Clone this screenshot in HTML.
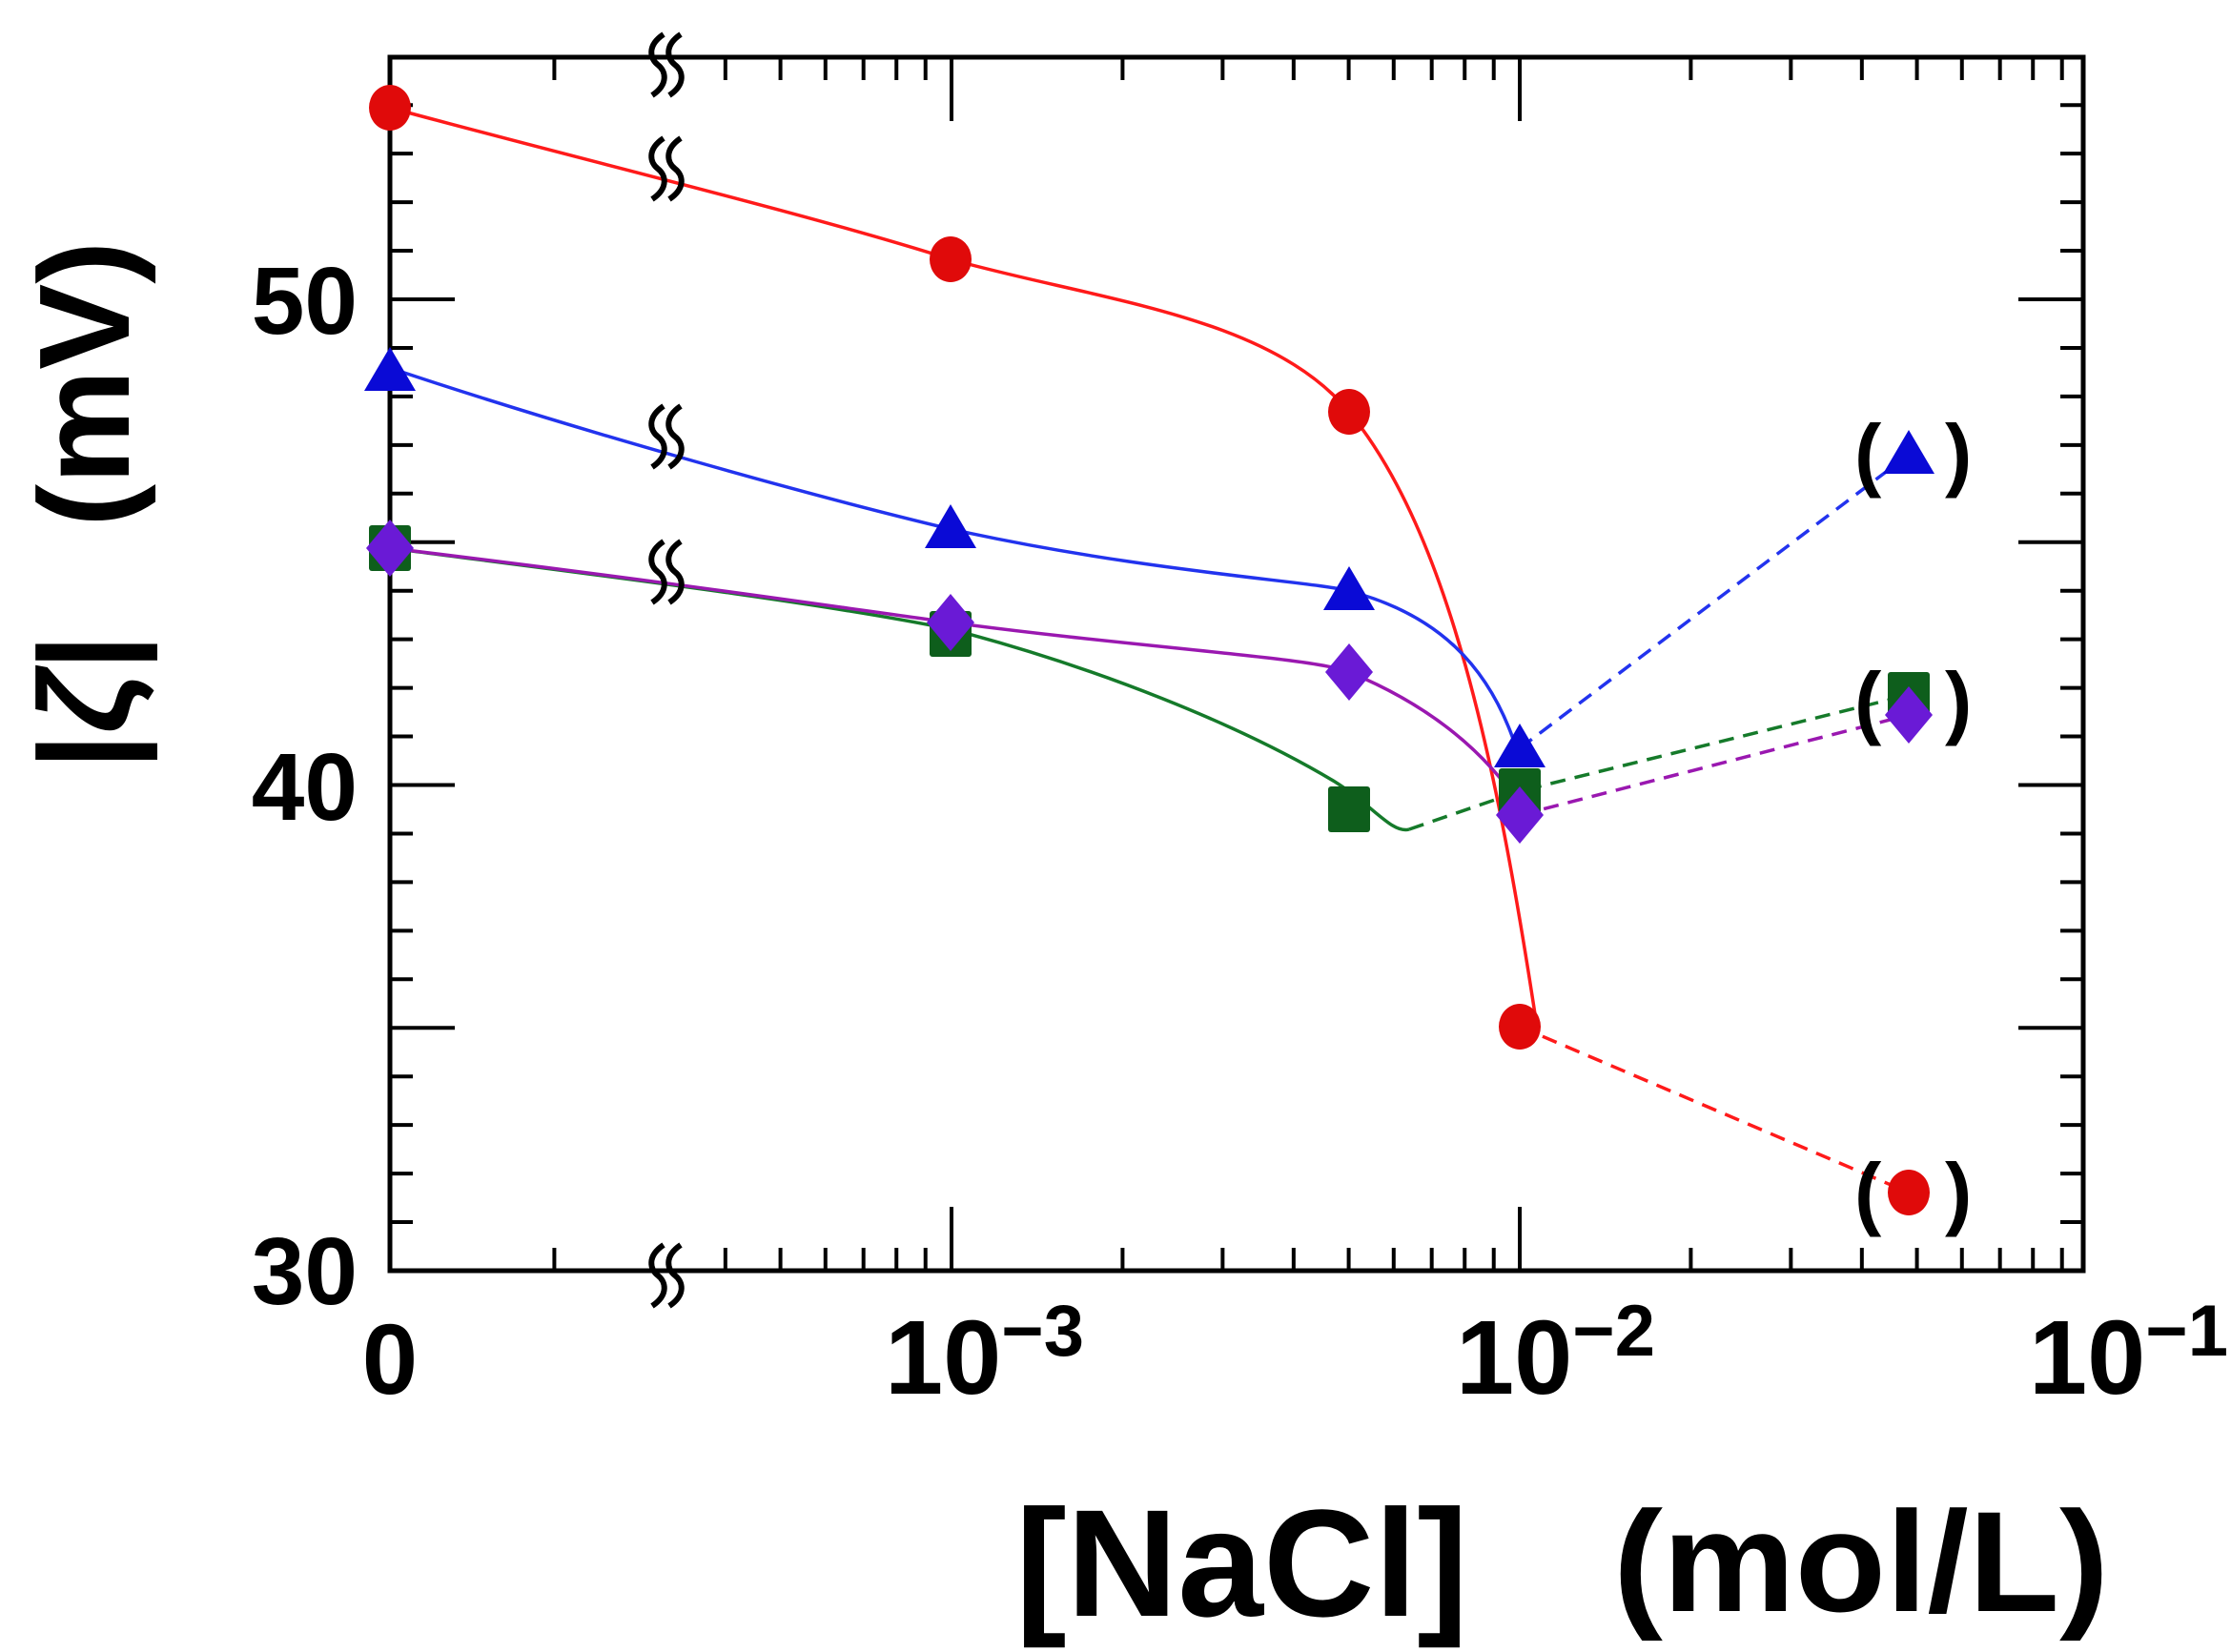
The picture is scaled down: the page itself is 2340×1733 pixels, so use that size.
<!DOCTYPE html>
<html><head><meta charset="utf-8"><style>
html,body{margin:0;padding:0;background:#fff;}
svg{display:block;}
text{font-family:"Liberation Sans",sans-serif;font-weight:bold;fill:#000;}
</style></head><body>
<svg id="s" width="2340" height="1733" viewBox="0 0 2340 1733" xmlns="http://www.w3.org/2000/svg">
<g id="ticks" stroke="#000" stroke-width="4"></g>
<rect x="409" y="60" width="1776" height="1273" fill="none" stroke="#000" stroke-width="5"/>
<g fill="none" stroke-width="3.5">
<path d="M409,113 C600,165 850,225 997,272 C1150,315 1330,330 1415,432 C1520,560 1570,800 1612,1077" stroke="#ff1a1a"/>
<path d="M409,386 C600,450 850,520 997,555 C1200,600 1380,610 1415,620 C1510,645 1560,700 1587,775" stroke="#2233ee"/>
<path d="M409,575 C600,600 850,630 997,660 C1150,700 1300,760 1400,820 C1440,845 1460,875 1478,870" stroke="#157a2a"/>
<path d="M409,575 C700,610 900,640 997,653 C1200,680 1380,690 1415,705 C1500,740 1560,790 1598,850" stroke="#9a18b0"/>
<g stroke-dasharray="16,10">
<path d="M1478,870 L1594,830 L2002,729" stroke="#157a2a"/>
<path d="M1594,855 L2002,750" stroke="#9a18b0"/>
<path d="M1594,785 L2002,477" stroke="#2233ee"/>
<path d="M1594,1077 L2002,1251" stroke="#ff1a1a"/>
</g></g>
<g id="marks"></g>
<g id="brk" fill="none" stroke="#000" stroke-width="6"></g>
<g font-size="100">
<text x="375" y="350" text-anchor="end">50</text>
<text x="375" y="860" text-anchor="end">40</text>
<text x="375" y="1368" text-anchor="end">30</text>
<text x="409" y="1462" text-anchor="middle" font-size="105">0</text>
<text x="928" y="1462" font-size="110">10<tspan dy="-40" font-size="76">−3</tspan></text>
<text x="1527" y="1462" font-size="110">10<tspan dy="-40" font-size="76">−2</tspan></text>
<text x="2128" y="1462" font-size="110">10<tspan dy="-40" font-size="76">−1</tspan></text>
</g>
<g font-size="85">
<text x="1945" y="505">(</text><text x="2040" y="505">)</text>
<text x="1945" y="765">(</text><text x="2040" y="765">)</text>
<text x="1945" y="1280">(</text><text x="2040" y="1280">)</text>
</g>
<text x="1065" y="1695" font-size="160" textLength="475" lengthAdjust="spacingAndGlyphs">[NaCl]</text>
<text x="1692" y="1690" font-size="150" textLength="520" lengthAdjust="spacingAndGlyphs">(mol/L)</text>
<text transform="translate(135,530) rotate(-90)" font-size="135" text-anchor="middle" xml:space="preserve">|<tspan font-style="italic">ζ</tspan>|   (mV)</text>
</svg>
<script>
var NS="http://www.w3.org/2000/svg";
function el(p,t,a){var e=document.createElementNS(NS,t);for(var k in a)e.setAttribute(k,a[k]);p.appendChild(e);return e;}
var T=document.getElementById('ticks'),L=409,R=2185,TOP=60,B=1333;
function X(c){return 1594+596*Math.log10(c/0.01);}
function Y(v){return B-(v-30)*50.95;}
for(var v=31;v<55;v++){var len=(v%5==0)?68:24;var y=Y(v);
 el(T,'line',{x1:L,y1:y,x2:L+len,y2:y});el(T,'line',{x1:R,y1:y,x2:R-len,y2:y});}
el(T,'line',{x1:L,y1:B,x2:L+68,y2:B});
var dec=[1e-4,1e-3,1e-2];
dec.forEach(function(d){for(var m=1;m<=9;m++){var c=d*m;if(c<2e-4)continue;if(Math.abs(c-3e-4)<1e-9)continue;
 var x=X(c);if(x>R-2)continue;var len=(m==1)?67:24;
 el(T,'line',{x1:x,y1:B,x2:x,y2:B-len});el(T,'line',{x1:x,y1:TOP,x2:x,y2:TOP+len});}});
var M=document.getElementById('marks');
function circ(x,y){el(M,'ellipse',{cx:x,cy:y,rx:22,ry:24,fill:'#e00a0a'});}
function tri(x,y){el(M,'polygon',{points:(x)+','+(y-26)+' '+(x-27)+','+(y+20)+' '+(x+27)+','+(y+20),fill:'#0a0ad6'});}
function sq(x,y){el(M,'rect',{x:x-22,y:y-24,width:44,height:48,rx:3,fill:'#0e5e1c'});}
function dia(x,y){el(M,'polygon',{points:x+','+(y-30)+' '+(x+25)+','+y+' '+x+','+(y+30)+' '+(x-25)+','+y,fill:'#6a1ad6'});}
var xs=[409,997,1415,1594,2002];
[113,272,432,1077,1251].forEach(function(y,i){circ(xs[i],y);});
[390,555,620,785,477].forEach(function(y,i){tri(xs[i],y);});
[575,665,849,830,729].forEach(function(y,i){sq(xs[i],y);});
[575,653,705,855,750].forEach(function(y,i){dia(xs[i],y);});
var Bk=document.getElementById('brk');
[68,177,458,600,1338].forEach(function(y){[-9,9].forEach(function(dx){var x=699+dx;
 el(Bk,'path',{d:'M'+(x+6)+','+(y-32)+' C'+(x-12)+','+(y-20)+' '+(x-8)+','+(y-6)+' '+x+','+y+' C'+(x+8)+','+(y+6)+' '+(x+12)+','+(y+20)+' '+(x-6)+','+(y+32)});});});
</script>
</body></html>
